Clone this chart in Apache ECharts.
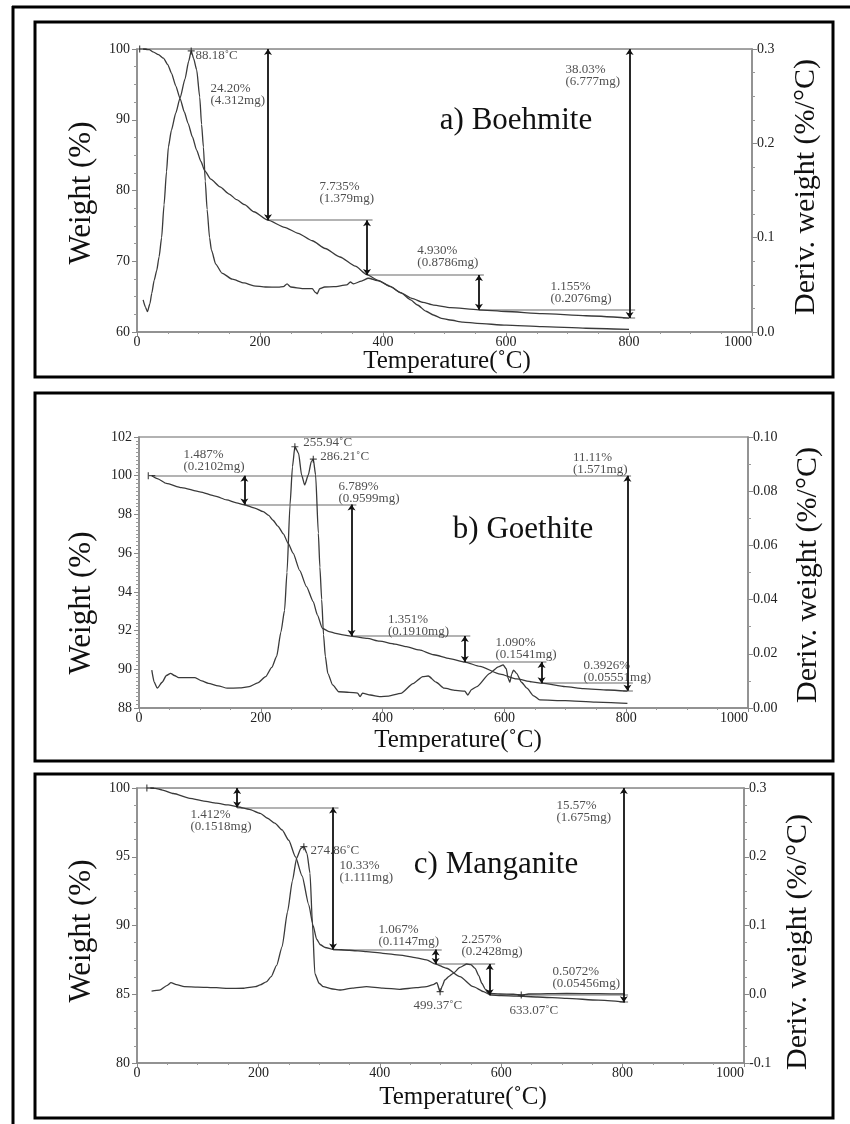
<!DOCTYPE html>
<html>
<head>
<meta charset="utf-8">
<script src="https://cdn.jsdelivr.net/npm/echarts/dist/echarts.min.js"></script>
<style>
html,body{margin:0;padding:0;background:#fff;}
#chart{width:850px;height:1124px;}
</style>
</head>
<body>
<div id="chart"></div>
<script>
// ================= DATA =================
const temperatureTicks = [0, 200, 400, 600, 800, 1000];

// ---- a) Boehmite ----
const boehmiteWeightTicks = [60, 70, 80, 90, 100];
const boehmiteDerivTicks = [0.0, 0.1, 0.2, 0.3];
const boehmiteWeight = [
  [10,100],[20,99.9],[26,99.6],[35,99.2],[43,98.7],[50,97.8],[56,96.6],[63,94.8],[70,93.0],[77,91.1],
  [83,89.5],[90,87.6],[97,85.7],[104,84.1],[110,82.8],[120,81.6],[135,80.5],[150,79.5],[162,78.7],
  [175,78.0],[190,77.0],[213,75.8],[240,74.8],[262,73.95],[285,72.9],[306,71.8],[330,70.6],[355,69.3],
  [374,68.1],[392,67.3],[412,66.4],[430,65.5],[447,64.76],[465,64.2],[482,63.8],[510,63.45],[555,63.14],
  [600,62.9],[659,62.6],[730,62.3],[800,61.97]
];
const boehmiteDeriv = [
  [10,0.034],[14,0.026],[17,0.0215],[21,0.03],[24,0.041],[28,0.055],[32,0.065],[36,0.08],[40,0.1],
  [44,0.135],[48,0.17],[51,0.196],[56,0.214],[63,0.232],[70,0.248],[78,0.268],[84,0.287],[88.18,0.298],
  [92,0.29],[97,0.278],[102,0.249],[105,0.22],[108,0.196],[111,0.16],[114,0.13],[118,0.1],[121,0.087],
  [128,0.072],[138,0.0625],[155,0.056],[174,0.052],[190,0.049],[209,0.0477],[230,0.0475],[238,0.048],
  [244,0.051],[250,0.0477],[270,0.046],[285,0.046],[290,0.042],[293,0.0405],[297,0.046],[305,0.0477],
  [320,0.048],[341,0.05],[347,0.053],[352,0.051],[365,0.054],[376,0.057],[394,0.054],[410,0.049],
  [429,0.0417],[445,0.034],[456,0.0286],[470,0.022],[482,0.018],[495,0.0145],[509,0.0127],[530,0.0105],
  [553,0.0092],[600,0.0072],[659,0.0056],[730,0.004],[800,0.0028]
];
// arrows: [temperature, weight from, weight to]
const boehmiteSteps = [[213,100,75.8],[374,75.8,68.07],[556,68.07,63.14],[801,100,61.97]];
// level lines: [weight, temperature start, temperature end]
const boehmiteLevels = [[100,10,1000],[75.8,213,383],[68.07,374,564],[63.14,556,810],[61.97,790,810]];
const boehmiteLabels = ['88.18˚C','24.20%\n(4.312mg)','7.735%\n(1.379mg)','4.930%\n(0.8786mg)','1.155%\n(0.2076mg)','38.03%\n(6.777mg)'];
const boehmitePeaks = [[88.18,0.298]];

// ---- b) Goethite ----
const goethiteWeightTicks = [88, 90, 92, 94, 96, 98, 100, 102];
const goethiteDerivTicks = [0.00, 0.02, 0.04, 0.06, 0.08, 0.10];
const goethiteWeight = [
  [21,100],[30,99.85],[45,99.6],[70,99.38],[100,99.17],[125,98.95],[144,98.75],[160,98.6],[173,98.5],
  [190,98.33],[204,98.14],[213,97.95],[220,97.7],[228,97.4],[237,97.0],[245,96.5],[253,96.0],[264,95.1],
  [275,94.27],[286,93.5],[293,92.8],[301,92.12],[312,91.95],[323,91.86],[335,91.78],[350,91.7],[375,91.6],
  [395,91.45],[420,91.3],[439,91.17],[460,91.0],[484,90.75],[510,90.55],[535,90.37],[560,90.15],[593,89.75],
  [620,89.5],[645,89.35],[662,89.28],[700,89.1],[730,89.0],[770,88.93],[802,88.87]
];
const goethiteDeriv = [
  [21,0.014],[25,0.0095],[30,0.0073],[38,0.0095],[45,0.012],[52,0.0128],[58,0.012],[65,0.0112],[80,0.0112],
  [92,0.0112],[103,0.010],[114,0.0091],[130,0.0082],[145,0.0073],[165,0.0074],[181,0.0079],[195,0.0093],
  [208,0.0116],[218,0.015],[226,0.019],[233,0.028],[239,0.036],[243,0.05],[248,0.075],[252,0.089],
  [255.94,0.0964],[262,0.094],[267,0.086],[272,0.0823],[278,0.086],[283,0.091],[286.21,0.0918],[290,0.086],
  [294.5,0.0645],[297,0.052],[300,0.04],[303,0.027],[306,0.019],[310,0.0128],[318,0.0085],[328,0.006],
  [345,0.0058],[359,0.0055],[363,0.0042],[367,0.0055],[380,0.0048],[395,0.0042],[410,0.0044],[430,0.0054],
  [450,0.009],[466,0.0116],[475,0.0118],[488,0.0095],[501,0.0073],[520,0.0065],[535,0.0062],[540,0.0048],
  [546,0.0068],[555,0.0079],[576,0.0128],[590,0.0152],[598,0.0159],[603,0.0145],[606,0.011],[609,0.0095],
  [612,0.0125],[615,0.014],[620,0.0128],[628,0.0095],[637,0.0073],[648,0.0045],[658,0.003],[700,0.0027],
  [750,0.0022],[802,0.0017]
];
const goethiteSteps = [[173,100,98.513],[349,98.513,91.724],[535,91.724,90.373],[661,90.373,89.283],[802,100,88.89]];
const goethiteLevels = [[100,21,808],[98.513,173,357],[91.724,349,544],[90.373,535,669],[89.283,661,811],[88.89,795,811]];
const goethiteLabels = ['1.487%\n(0.2102mg)','255.94˚C','286.21˚C','6.789%\n(0.9599mg)','1.351%\n(0.1910mg)','1.090%\n(0.1541mg)','0.3926%\n(0.05551mg)','11.11%\n(1.571mg)'];
const goethitePeaks = [[255.94,0.0964],[286.21,0.0918]];

// ---- c) Manganite ----
const manganiteWeightTicks = [80, 85, 90, 95, 100];
const manganiteDerivTicks = [-0.1, 0.0, 0.1, 0.2, 0.3];
const manganiteWeight = [
  [22,100],[30,99.97],[42,99.85],[60,99.6],[87,99.25],[110,99.05],[131,98.9],[150,98.77],[167,98.62],
  [185,98.45],[203,98.16],[215,97.8],[227,97.45],[239,96.95],[250,96.2],[261,95.0],[272,93.6],[283,91.5],
  [290,90.0],[296,89.0],[302,88.6],[310,88.4],[323,88.27],[350,88.2],[378,88.1],[405,87.98],[433,87.85],
  [460,87.65],[477,87.5],[492,87.19],[510,86.89],[532,86.28],[554,85.55],[571,85.19],[582,84.95],
  [600,84.9],[625,84.87],[660,84.8],[708,84.7],[760,84.57],[804,84.43]
];
const manganiteDeriv = [
  [24,0.0047],[37,0.006],[50,0.013],[56,0.0168],[65,0.014],[78,0.011],[100,0.0105],[131,0.0095],
  [150,0.0085],[176,0.0087],[195,0.011],[203,0.0135],[213,0.018],[221,0.0255],[230,0.042],[239,0.069],
  [248,0.12],[256,0.165],[263,0.198],[270,0.212],[274.86,0.2146],[280,0.205],[285,0.176],[289,0.103],
  [293,0.03],[300,0.016],[307,0.011],[320,0.008],[334,0.0062],[355,0.009],[378,0.011],[405,0.009],
  [433,0.0072],[460,0.0095],[477,0.011],[488,0.014],[494,0.0168],[499.37,0.0037],[503,0.012],[507,0.0207],
  [514,0.026],[521,0.0305],[532,0.039],[543,0.044],[550,0.043],[557,0.0377],[563,0.027],[568,0.016],
  [574,0.007],[579,0.0014],[598,0.0004],[620,0.0],[633.07,-0.0012],[645,0.0004],[708,0.0013],[760,0.0008],
  [804,0.0004]
];
const manganiteSteps = [[165,100,98.588],[323,98.588,88.258],[492,88.258,87.191],[581,87.191,84.934],[802,100,84.427]];
const manganiteLevels = [[100,22,1000],[98.588,165,332],[88.258,323,502],[87.191,492,590],[84.934,581,809],[84.427,795,809]];
const manganiteLabels = ['1.412%\n(0.1518mg)','274.86˚C','10.33%\n(1.111mg)','1.067%\n(0.1147mg)','2.257%\n(0.2428mg)','499.37˚C','633.07˚C','0.5072%\n(0.05456mg)','15.57%\n(1.675mg)'];
const manganitePeaks = [[274.86,0.2146],[499.37,0.0037],[633.07,-0.0012]];

// ================= LAYOUT (label anchors in axis units, pixel frames) =================
const boehmiteLabelAt = [[94.3,99.0],[118.7,93.5],[296,79.7],[455,70.7],[671.5,65.6],[696,96.2]];
const goethiteLabelAt = [[72.2,100.76],[269,101.69],[297,100.97],[326.8,99.13],[408,92.24],[584.6,91.08],[729,89.86],[711.8,100.63]];
const manganiteLabelAt = [[87.3,97.64],[285,95.42],[332.8,93.93],[397,89.27],[533.8,88.51],[454.7,84.15],[612.9,83.78],[683.7,86.22],[690.3,98.25]];

const SERIF = '"Liberation Serif","DejaVu Serif",serif';
const CURVE = '#3a3a3a';

const panels = [
  { title:'a) Boehmite', weight:boehmiteWeight, deriv:boehmiteDeriv, wT:boehmiteWeightTicks, dT:boehmiteDerivTicks, dDigits:1,
    steps:boehmiteSteps, levels:boehmiteLevels, labels:boehmiteLabels, labelAt:boehmiteLabelAt, peaks:boehmitePeaks,
    grid:{left:137, top:49, width:615, height:283}, wMinor:4, dMinor:4,
    box:[35,22,798,355], titlePos:[516,121], wName:[82,193], dName:[806,187], tName:[447,361] },
  { title:'b) Goethite', weight:goethiteWeight, deriv:goethiteDeriv, wT:goethiteWeightTicks, dT:goethiteDerivTicks, dDigits:2,
    steps:goethiteSteps, levels:goethiteLevels, labels:goethiteLabels, labelAt:goethiteLabelAt, peaks:goethitePeaks,
    grid:{left:139, top:437, width:609, height:271}, wMinor:10, dMinor:2,
    box:[35,393,798,368], titlePos:[523,530], wName:[82,603], dName:[808,575], tName:[458,740] },
  { title:'c) Manganite', weight:manganiteWeight, deriv:manganiteDeriv, wT:manganiteWeightTicks, dT:manganiteDerivTicks, dDigits:1,
    steps:manganiteSteps, levels:manganiteLevels, labels:manganiteLabels, labelAt:manganiteLabelAt, peaks:manganitePeaks,
    grid:{left:137, top:788, width:607, height:275}, wMinor:4, dMinor:4,
    box:[35,774,798,344], titlePos:[496,865], wName:[82,931], dName:[798,942], tName:[463,1097] }
];

const grids = [], xAxes = [], yAxes = [], series = [], graphics = [];
const axisLineStyle = { color:'#888', width:1.5 };
const labelBase = { fontFamily:SERIF, fontSize:14, color:'#222' };

// outer frame (left and top)
graphics.push({ type:'line', shape:{x1:13,y1:6,x2:13,y2:1124}, style:{stroke:'#000', lineWidth:3} });
graphics.push({ type:'line', shape:{x1:12,y1:7,x2:850,y2:7}, style:{stroke:'#000', lineWidth:3} });

panels.forEach((p, i) => {
  grids.push(Object.assign({ show:true, borderColor:'#999', borderWidth:1.5, backgroundColor:'transparent' }, p.grid));
  xAxes.push({
    gridIndex:i, type:'value', position:'bottom',
    min:temperatureTicks[0], max:temperatureTicks[temperatureTicks.length-1],
    interval:temperatureTicks[1]-temperatureTicks[0],
    axisLine:{ onZero:false, lineStyle:axisLineStyle }, splitLine:{show:false},
    axisTick:{ length:4, lineStyle:{color:'#888'} },
    minorTick:{ show:true, splitNumber:4, length:2, lineStyle:{color:'#999'} },
    axisLabel:Object.assign({ margin:3, alignMaxLabel:'right', formatter:(v)=>String(v) }, labelBase)
  });
  yAxes.push({
    gridIndex:i, type:'value', position:'left',
    min:p.wT[0], max:p.wT[p.wT.length-1], interval:p.wT[1]-p.wT[0],
    axisLine:{ show:true, onZero:false, lineStyle:axisLineStyle }, splitLine:{show:false},
    axisTick:{ show:true, length:5, lineStyle:{color:'#888'} },
    minorTick:{ show:true, splitNumber:p.wMinor, length:3, lineStyle:{color:'#999'} },
    axisLabel:Object.assign({ margin:7, formatter:(v)=>String(v) }, labelBase)
  });
  const dStep = Math.round((p.dT[1]-p.dT[0])*1000)/1000;
  yAxes.push({
    gridIndex:i, type:'value', position:'right',
    min:p.dT[0], max:p.dT[p.dT.length-1], interval:dStep,
    axisLine:{ show:true, onZero:false, lineStyle:axisLineStyle }, splitLine:{show:false},
    axisTick:{ show:true, length:5, lineStyle:{color:'#888'} },
    minorTick:{ show:true, splitNumber:p.dMinor, length:3, lineStyle:{color:'#999'} },
    axisLabel:Object.assign({ margin:5, formatter:(v)=> (Math.abs(v)<1e-9?0:v).toFixed(p.dDigits) }, labelBase)
  });
  const wY = 2*i, dY = 2*i+1;
  // level lines
  series.push({
    type:'lines', coordinateSystem:'cartesian2d', xAxisIndex:i, yAxisIndex:wY, z:2,
    symbol:'none', silent:true,
    lineStyle:{ color:'#9a9a9a', width:1.6, opacity:1 },
    data:p.levels.map(l => ({ coords:[[l[1],l[0]],[l[2],l[0]]] }))
  });
  // curves
  series.push({ type:'line', name:'Weight', xAxisIndex:i, yAxisIndex:wY, data:p.weight, showSymbol:false, symbol:'none',
    smooth:0.2, smoothMonotone:'x', lineStyle:{color:CURVE, width:1.3}, z:3, silent:true });
  series.push({ type:'line', name:'Deriv. weight', xAxisIndex:i, yAxisIndex:dY, data:p.deriv, showSymbol:false, symbol:'none',
    smooth:0.2, smoothMonotone:'x', lineStyle:{color:CURVE, width:1.3}, z:3, silent:true });
  // step arrows
  series.push({
    type:'lines', coordinateSystem:'cartesian2d', xAxisIndex:i, yAxisIndex:wY, z:4,
    symbol:['arrow','arrow'], symbolSize:[6,6], silent:true,
    lineStyle:{ color:'#111', width:1.8, opacity:1 },
    data:p.steps.map(s => ({ coords:[[s[0],s[1]],[s[0],s[2]]] }))
  });
  // peak markers
  series.push({
    type:'scatter', xAxisIndex:i, yAxisIndex:dY, z:5, silent:true,
    symbol:'path://M0,5L10,5M5,0L5,10', symbolSize:7,
    itemStyle:{ color:'transparent', borderColor:'#222', borderWidth:1.2 },
    data:p.peaks
  });
  // start marker of weight curve
  series.push({
    type:'scatter', xAxisIndex:i, yAxisIndex:wY, z:5, silent:true,
    symbol:'path://M0,5L10,5M0,0L0,10', symbolSize:7,
    itemStyle:{ color:'transparent', borderColor:'#222', borderWidth:1.2 },
    data:[p.weight[0]]
  });
  // annotation texts
  series.push({
    type:'scatter', xAxisIndex:i, yAxisIndex:wY, z:6, silent:true,
    symbolSize:1, itemStyle:{ color:'rgba(0,0,0,0)' },
    label:{ show:true, position:'right', distance:0, fontFamily:SERIF, fontSize:13, lineHeight:12, color:'#222',
      formatter:(prm)=>prm.data.name },
    data:p.labels.map((t,k) => ({ name:t, value:p.labelAt[k] }))
  });
  // frames & big texts
  graphics.push({ type:'rect', shape:{x:p.box[0], y:p.box[1], width:p.box[2], height:p.box[3]},
    style:{ fill:'none', stroke:'#000', lineWidth:3 }, z:10 });
  graphics.push({ type:'text', x:p.titlePos[0], y:p.titlePos[1],
    style:{ text:p.title, font:'31px '+SERIF, fill:'#111', textAlign:'center', textVerticalAlign:'middle', align:'center', verticalAlign:'middle' } });
  graphics.push({ type:'text', x:p.wName[0], y:p.wName[1], rotation:Math.PI/2,
    style:{ text:'Weight (%)', font:'31px '+SERIF, fill:'#111', textAlign:'center', textVerticalAlign:'middle', align:'center', verticalAlign:'middle' } });
  graphics.push({ type:'text', x:p.dName[0], y:p.dName[1], rotation:Math.PI/2,
    style:{ text:'Deriv. weight (%/°C)', font:'30px '+SERIF, fill:'#111', textAlign:'center', textVerticalAlign:'middle', align:'center', verticalAlign:'middle' } });
  graphics.push({ type:'text', x:p.tName[0], y:p.tName[1],
    style:{ text:'Temperature(˚C)', font:'25px '+SERIF, fill:'#111', textAlign:'center', textVerticalAlign:'middle', align:'center', verticalAlign:'middle' } });
});

const chart = echarts.init(document.getElementById('chart'), null, { renderer:'canvas' });
chart.setOption({
  animation:false,
  backgroundColor:'#fff',
  grid:grids, xAxis:xAxes, yAxis:yAxes, series:series,
  graphic:{ elements:graphics }
});
</script>
</body>
</html>
